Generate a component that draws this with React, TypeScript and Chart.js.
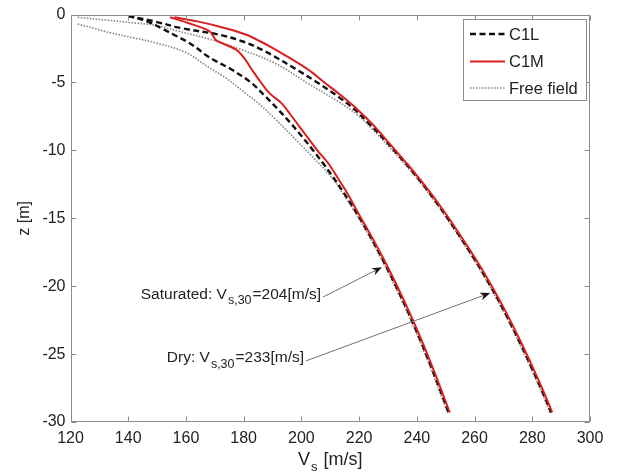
import React, { useEffect, useRef } from "react";
import { Chart, registerables } from "chart.js";

Chart.register(...registerables);

// ---------- data ----------
const seriesNames = ["C1L", "C1M", "Free field"];
const xTicks = [120, 140, 160, 180, 200, 220, 240, 260, 280, 300];
const yTicks = [0, -5, -10, -15, -20, -25, -30];

// Saturated profiles (left group)
const zSatC1L = [-0.1, -0.5, -1, -1.5, -2, -2.5, -3, -3.5, -4, -5, -6, -7, -8, -9, -10, -11, -12, -13, -14, -15, -16, -18, -20, -22, -24, -26, -28, -29.3];
const vsSatC1L = [140, 146.5, 151.5, 156, 160.5, 164, 167, 171, 175.5, 182.5, 187.4, 192, 196.3, 200.3, 204.1, 207.7, 211.1, 214.3, 217.35, 220.25, 223, 228.1, 232.8, 237.2, 241.3, 245.1, 248.7, 251];

const zSatC1M = [-0.2, -0.6, -1.2, -1.6, -1.9, -2.6, -3.3, -4.1, -5, -5.8, -6.5, -7.3, -8.3, -9, -10, -11, -12, -13, -14, -15, -16, -18, -20, -22, -24, -26, -28, -29.3];
const vsSatC1M = [154.5, 160.5, 168, 169.5, 170.5, 177.5, 180.5, 183, 186, 189, 193, 196, 199.5, 202, 205.5, 209.5, 212.5, 215.5, 218.1, 220.7, 223.4, 228.5, 233.2, 237.6, 241.7, 245.5, 249.1, 251.4];

const zSatFree = [-0.7, -1, -1.3, -1.7, -2.1, -2.8, -3.9, -4.7, -5.6, -6.6, -7.7, -9.2, -10.5, -12, -14, -16, -18, -20, -22, -24, -26, -28, -29.3];
const vsSatFree = [122.5, 128, 133, 141.5, 150, 160, 168, 174, 179.5, 185.5, 191, 198, 204, 210.5, 216.9, 222.6, 227.7, 232.4, 236.8, 240.9, 244.7, 248.3, 250.6];

// Dry profiles (right group)
const zDryC1L = [-0.1, -0.5, -1, -1.5, -2, -2.5, -3, -4, -5, -6, -7, -8, -9, -10, -11, -12, -13, -14, -15, -16, -18, -20, -22, -24, -26, -28, -29.3];
const vsDryC1L = [140, 149, 158.5, 172, 180, 185.5, 190, 198, 205.5, 212.5, 218.5, 223.3, 227.9, 232.2, 236.3, 240.2, 243.9, 247.4, 250.7, 253.85, 260, 265.6, 270.7, 275.4, 279.8, 284, 286.5];

const zDryC1M = [-0.2, -0.5, -1, -1.5, -2, -2.5, -3, -4, -5, -6, -7, -8, -9, -10, -11, -12, -13, -14, -15, -16, -18, -20, -22, -24, -26, -28, -29.3];
const vsDryC1M = [156, 164, 173.7, 181.2, 186, 190.4, 194.4, 202, 208, 214, 219.5, 224.3, 228.5, 232.6, 236.7, 240.6, 244.3, 247.8, 251.1, 254.25, 260.4, 266, 271.1, 275.8, 280.2, 284.4, 286.9];

const zDryFree = [-0.2, -0.4, -0.6, -0.8, -1.2, -1.8, -2.6, -3.6, -5.1, -6.5, -7.4, -8.5, -10, -12, -14, -16, -18, -20, -22, -24, -26, -28, -29.3];
const vsDryFree = [122.5, 132, 141.5, 150, 157, 168, 179.5, 191, 202.5, 213.5, 219.5, 224.9, 231.5, 239.8, 247, 253.5, 259.6, 265.2, 270.3, 275, 279.4, 283.6, 286.1];

// Annotations (text pieces and data-space anchors)
const annMain = ["Saturated: V", "Dry: V"];
const annSub = ["s,30", "s,30"];
const annValue = ["=204[m/s]", "=233[m/s]"];
const annTailVs = [207.5, 201.6];
const annTailZ = [-20.8, -25.5];
const annHeadVs = [227.9, 265.4];
const annHeadZ = [-18.6, -20.5];

// ---------- styles ----------
const FONT = "'Liberation Sans', Arial, Helvetica, sans-serif";
const RED = "#d9201f";
const BLACK = "#111111";
const GRAY_DOT = "#858585";
const AXIS_GRAY = "#8c8c8c";
const TEXT = "#222222";

const toPts = (v: number[], z: number[]) => v.map((x, i) => ({ x, y: z[i] }));

const styleC1L = { borderColor: BLACK, borderWidth: 2.4, borderDash: [6, 3.5] };
const styleC1M = { borderColor: RED, borderWidth: 2, borderDash: [] as number[] };
const styleFree = { borderColor: GRAY_DOT, borderWidth: 1.6, borderDash: [1.5, 1.5] };
const legendStyles = [styleC1L, styleC1M, styleFree];

function drawSubText(
  ctx: CanvasRenderingContext2D,
  xLeft: number,
  yMid: number,
  main: string,
  sub: string,
  rest: string,
  size: number,
  subSize: number
) {
  ctx.textBaseline = "alphabetic";
  ctx.textAlign = "left";
  const base = yMid + size * 0.36;
  ctx.font = `${size}px ${FONT}`;
  const w1 = ctx.measureText(main).width;
  ctx.fillText(main, xLeft, base);
  ctx.font = `${subSize}px ${FONT}`;
  const w2 = ctx.measureText(sub).width;
  ctx.fillText(sub, xLeft + w1 + 1, base + subSize * 0.42);
  ctx.font = `${size}px ${FONT}`;
  ctx.fillText(rest, xLeft + w1 + w2 + 2, base);
}

function subTextWidth(ctx: CanvasRenderingContext2D, main: string, sub: string, rest: string, size: number, subSize: number) {
  ctx.font = `${size}px ${FONT}`;
  const a = ctx.measureText(main).width + ctx.measureText(rest).width;
  ctx.font = `${subSize}px ${FONT}`;
  return a + ctx.measureText(sub).width + 2;
}

function drawArrow(ctx: CanvasRenderingContext2D, x1: number, y1: number, x2: number, y2: number) {
  const ang = Math.atan2(y2 - y1, x2 - x1);
  const c = Math.cos(ang), s = Math.sin(ang);
  const len = 10, half = 4;
  ctx.save();
  ctx.strokeStyle = "#707070";
  ctx.lineWidth = 1;
  ctx.setLineDash([]);
  ctx.beginPath();
  ctx.moveTo(x1, y1);
  ctx.lineTo(x2 - c * len * 0.7, y2 - s * len * 0.7);
  ctx.stroke();
  ctx.fillStyle = "#151515";
  ctx.beginPath();
  ctx.moveTo(x2, y2);
  ctx.lineTo(x2 - len * c + half * s, y2 - len * s - half * c);
  ctx.lineTo(x2 - 0.7 * len * c, y2 - 0.7 * len * s);
  ctx.lineTo(x2 - len * c - half * s, y2 - len * s + half * c);
  ctx.closePath();
  ctx.fill();
  ctx.restore();
}

const decorPlugin = {
  id: "matlabDecor",
  afterDraw(chart: any) {
    const ctx: CanvasRenderingContext2D = chart.ctx;
    const { left, right, top, bottom } = chart.chartArea;
    const xs = chart.scales.x;
    const ys = chart.scales.y;
    ctx.save();

    // box
    ctx.strokeStyle = AXIS_GRAY;
    ctx.lineWidth = 1;
    ctx.setLineDash([]);
    const L = Math.round(left) + 0.5, R = Math.round(right) - 0.5;
    const T = Math.round(top) + 0.5, B = Math.round(bottom) - 0.5;
    ctx.strokeRect(L, T, R - L, B - T);

    // inward ticks
    const tl = 5;
    ctx.beginPath();
    xTicks.forEach((v) => {
      const px = Math.round(xs.getPixelForValue(v)) + 0.5;
      ctx.moveTo(px, B); ctx.lineTo(px, B - tl);
      ctx.moveTo(px, T); ctx.lineTo(px, T + tl);
    });
    yTicks.forEach((v) => {
      const py = Math.round(ys.getPixelForValue(v)) + 0.5;
      ctx.moveTo(L, py); ctx.lineTo(L + tl, py);
      ctx.moveTo(R, py); ctx.lineTo(R - tl, py);
    });
    ctx.stroke();

    // annotations
    ctx.fillStyle = TEXT;
    for (let i = 0; i < annMain.length; i++) {
      const tx = xs.getPixelForValue(annTailVs[i]);
      const ty = ys.getPixelForValue(annTailZ[i]);
      const hx = xs.getPixelForValue(annHeadVs[i]);
      const hy = ys.getPixelForValue(annHeadZ[i]);
      const w = subTextWidth(ctx, annMain[i], annSub[i], annValue[i], 15.5, 12.5);
      ctx.fillStyle = TEXT;
      drawSubText(ctx, tx - 2 - w, ty - 4, annMain[i], annSub[i], annValue[i], 15.5, 12.5);
      drawArrow(ctx, tx, ty, hx, hy);
    }

    // legend
    const bx = 463.5, by = 19.5, bw = 123, bh = 81;
    ctx.fillStyle = "#ffffff";
    ctx.fillRect(bx, by, bw, bh);
    ctx.strokeStyle = AXIS_GRAY;
    ctx.lineWidth = 1;
    ctx.setLineDash([]);
    ctx.strokeRect(bx, by, bw, bh);
    const rowsY = [34, 61.5, 88];
    seriesNames.forEach((name, i) => {
      const st = legendStyles[i];
      ctx.strokeStyle = st.borderColor;
      ctx.lineWidth = st.borderWidth;
      ctx.setLineDash(st.borderDash);
      ctx.beginPath();
      ctx.moveTo(470, rowsY[i]);
      ctx.lineTo(505, rowsY[i]);
      ctx.stroke();
      ctx.setLineDash([]);
      ctx.fillStyle = TEXT;
      ctx.font = `16.5px ${FONT}`;
      ctx.textAlign = "left";
      ctx.textBaseline = "middle";
      ctx.fillText(name, 509, rowsY[i] + 1);
    });

    // x title: V_s [m/s]
    ctx.fillStyle = TEXT;
    const cx = (left + right) / 2;
    const wt = subTextWidth(ctx, "V", "s", " [m/s]", 18, 13);
    drawSubText(ctx, cx - wt / 2, 459, "V", "s", " [m/s]", 18, 13);

    // y title
    ctx.save();
    ctx.translate(25, (top + bottom) / 2);
    ctx.rotate(-Math.PI / 2);
    ctx.font = `16px ${FONT}`;
    ctx.textAlign = "center";
    ctx.textBaseline = "middle";
    ctx.fillText("z [m]", 0, 0);
    ctx.restore();

    ctx.restore();
  },
};

export default function App() {
  const ref = useRef<HTMLCanvasElement | null>(null);

  useEffect(() => {
    if (!ref.current) return;
    const mk = (label: string, v: number[], z: number[], st: any, order: number) => ({
      label,
      data: toPts(v, z),
      borderColor: st.borderColor,
      borderWidth: st.borderWidth,
      borderDash: st.borderDash,
      pointRadius: 0,
      tension: 0.35,
      fill: false,
      order,
    });
    const chart = new Chart(ref.current, {
      type: "line",
      data: {
        datasets: [
          mk("C1M", vsSatC1M, zSatC1M, styleC1M, 0),
          mk("C1M", vsDryC1M, zDryC1M, styleC1M, 0),
          mk("C1L", vsSatC1L, zSatC1L, styleC1L, 1),
          mk("C1L", vsDryC1L, zDryC1L, styleC1L, 1),
          mk("Free field", vsSatFree, zSatFree, styleFree, 2),
          mk("Free field", vsDryFree, zDryFree, styleFree, 2),
        ],
      },
      options: {
        responsive: false,
        animation: false,
        devicePixelRatio: 1,
        layout: { padding: { left: 0, top: 13.5, right: 28, bottom: 0 } },
        plugins: { legend: { display: false }, tooltip: { enabled: false } },
        scales: {
          x: {
            type: "linear",
            min: 120,
            max: 300,
            grid: { display: false, drawTicks: false },
            border: { display: false },
            ticks: {
              stepSize: 20,
              padding: 7,
              color: TEXT,
              font: { family: FONT, size: 16 },
              maxRotation: 0,
            },
            afterFit: (s: any) => { s.height = 51; },
          },
          y: {
            type: "linear",
            min: -30,
            max: 0,
            grid: { display: false, drawTicks: false },
            border: { display: false },
            ticks: {
              stepSize: 5,
              padding: 5,
              color: TEXT,
              font: { family: FONT, size: 16 },
            },
            afterFit: (s: any) => { s.width = 70.5; },
          },
        },
      },
      plugins: [decorPlugin],
    });
    return () => chart.destroy();
  }, []);

  return (
    <canvas
      ref={ref}
      width={618}
      height={473}
      style={{ position: "absolute", left: 0, top: 0, width: 618, height: 473, background: "#fff" }}
    />
  );
}
